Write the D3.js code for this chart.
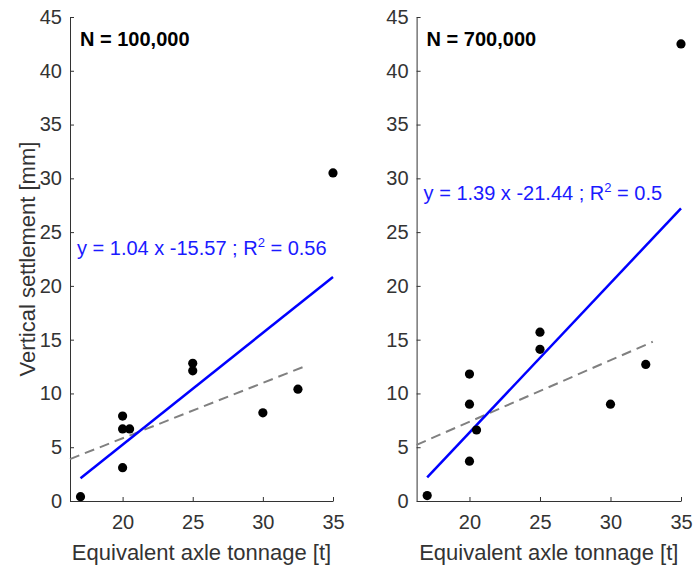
<!DOCTYPE html>
<html>
<head>
<meta charset="utf-8">
<script src="https://cdn.jsdelivr.net/npm/d3@7"></script>
<style>
  body { margin: 0; background: #fff; }
  text { font-family: "Liberation Sans", Arial, sans-serif; }
</style>
</head>
<body>
<svg id="chart"></svg>
<script>
"use strict";

var width = 693
  , height = 566;

// axle loads [t], same for both panels
var tonnage = [17, 20, 20, 20.5, 20, 25, 25, 30, 32.5, 35];
// vertical settlement [mm]
var settle100k = [0.4, 7.9, 6.7, 6.7, 3.1, 12.8, 12.1, 8.2, 10.4, 30.5];
var settle700k = [0.5, 11.8, 9.0, 6.6, 3.7, 15.7, 14.1, 9.0, 12.7, 42.5];

var panelTitles = ["N = 100,000", "N = 700,000"];
var fitSlope = [1.04, 1.39]
  , fitIntercept = [-15.57, -21.44]
  , fitR2 = ["0.56", "0.5"]
  , fitRange = [17, 35];
// grey dashed reference line
var refSlope = [0.515, 0.572]
  , refIntercept = [-4.47, -4.07]
  , refRange = [16.25, 33];

var xTicks = [20, 25, 30, 35]
  , yTicks = [0, 5, 10, 15, 20, 25, 30, 35, 40, 45];

// where the equation sits (in data units of each panel)
var eqY = [22.9, 28.0];

var svg = d3.select("#chart")
  .attr("width", width)
  .attr("height", height);

var panels = [
  { left: 70, right: 333, values: settle100k },
  { left: 416.6, right: 681, values: settle700k }
];

var plotTop = 17, plotBottom = 501;
var axisColor = "#333";

panels.forEach(function (p, i) {
  drawPanel(p, i);
});

function drawPanel(p, i) {
  var x = d3.scaleLinear().domain([16.25, 35]).range([p.left, p.right]);
  var y = d3.scaleLinear().domain([0, 45]).range([plotBottom, plotTop]);

  var g = svg.append("g");

  var xAxis = d3.axisBottom(x).tickValues(xTicks).tickSizeInner(-4).tickSizeOuter(0).tickPadding(14);
  var yAxis = d3.axisLeft(y).tickValues(yTicks).tickSizeInner(-4).tickSizeOuter(0).tickPadding(8);

  var gx = g.append("g")
    .attr("transform", "translate(0," + plotBottom + ")")
    .call(xAxis);
  var gy = g.append("g")
    .attr("transform", "translate(" + p.left + ",0)")
    .call(yAxis);

  [gx, gy].forEach(function (a) {
    a.select(".domain").attr("stroke", axisColor);
    a.selectAll(".tick line").attr("stroke", axisColor);
    a.selectAll(".tick text")
      .attr("fill", axisColor)
      .style("font-size", "20px")
      .style("font-family", "'Liberation Sans', Arial, sans-serif");
  });

  // axis labels
  g.append("text")
    .attr("x", (p.left + p.right) / 2)
    .attr("y", 560)
    .attr("text-anchor", "middle")
    .attr("fill", axisColor)
    .style("font-size", "22px")
    .text("Equivalent axle tonnage [t]");

  if (i === 0) {
    g.append("text")
      .attr("transform", "translate(35," + ((plotTop + plotBottom) / 2) + ") rotate(-90)")
      .attr("text-anchor", "middle")
      .attr("fill", axisColor)
      .style("font-size", "22px")
      .text("Vertical settlement [mm]");
  }

  // dashed reference line
  g.append("line")
    .attr("x1", x(refRange[0]))
    .attr("y1", y(refSlope[i] * refRange[0] + refIntercept[i]))
    .attr("x2", x(refRange[1]))
    .attr("y2", y(refSlope[i] * refRange[1] + refIntercept[i]))
    .attr("stroke", "#808080")
    .attr("stroke-width", 2)
    .attr("stroke-dasharray", "10,6");

  // regression line
  g.append("line")
    .attr("x1", x(fitRange[0]))
    .attr("y1", y(fitSlope[i] * fitRange[0] + fitIntercept[i]))
    .attr("x2", x(fitRange[1]))
    .attr("y2", y(fitSlope[i] * fitRange[1] + fitIntercept[i]))
    .attr("stroke", "#0000ff")
    .attr("stroke-width", 2.5);

  g.selectAll("circle")
    .data(tonnage)
    .enter()
    .append("circle")
    .attr("cx", function (d) { return x(d); })
    .attr("cy", function (d, k) { return y(p.values[k]); })
    .attr("r", 4.6)
    .attr("fill", "#000");

  // panel title
  g.append("text")
    .attr("x", p.left + 10)
    .attr("y", plotTop + 29)
    .attr("fill", "#000")
    .style("font-size", "20px")
    .style("font-weight", "bold")
    .text(panelTitles[i]);

  // equation
  var eq = g.append("text")
    .attr("x", p.left + 7)
    .attr("y", y(eqY[i]))
    .attr("fill", "#1a1aff")
    .style("font-size", "20px");
  eq.append("tspan")
    .text("y = " + fitSlope[i] + " x " + fitIntercept[i] + " ; R");
  eq.append("tspan")
    .attr("dy", -8)
    .style("font-size", "13px")
    .text("2");
  eq.append("tspan")
    .attr("dy", 8)
    .text(" = " + fitR2[i]);
}
</script>
</body>
</html>
